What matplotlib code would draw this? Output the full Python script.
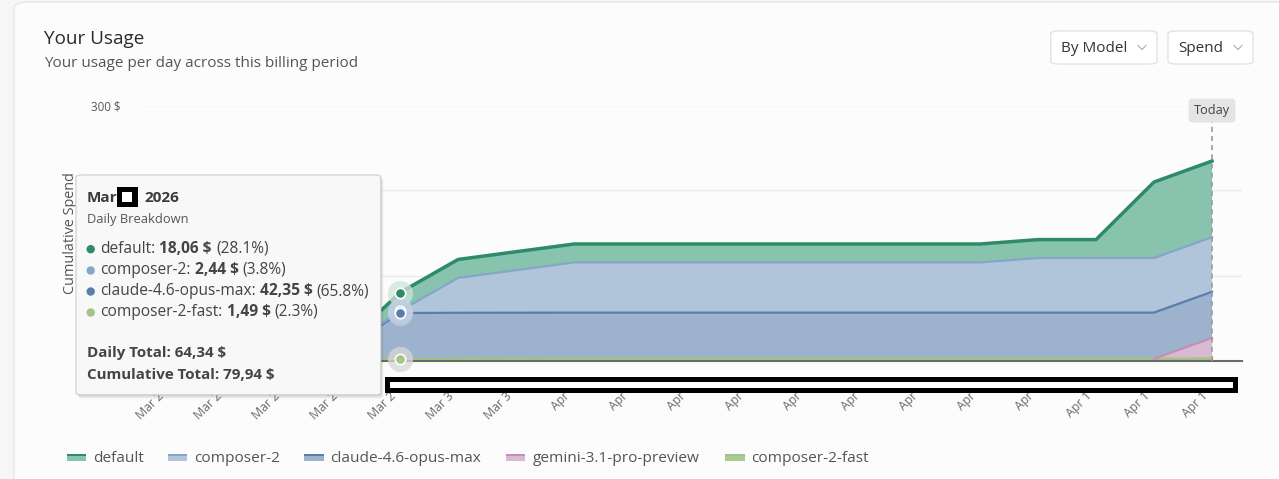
import numpy as np
import matplotlib
matplotlib.use("Agg")
import matplotlib.pyplot as plt
from matplotlib.patches import FancyBboxPatch, Rectangle, Ellipse
from matplotlib.lines import Line2D
from matplotlib.transforms import ScaledTranslation

plt.rcParams['font.family'] = ['Open Sans', 'DejaVu Sans']

W, H = 1279, 479

# cumulative spend per model, Mar 25 .. Apr 12 (stack order bottom -> top)
tick_labels = ["Mar 2", "Mar 2", "Mar 2", "Mar 2", "Mar 2", "Mar 3", "Mar 3",
               "Apr", "Apr", "Apr", "Apr", "Apr", "Apr", "Apr", "Apr", "Apr",
               "Apr 1", "Apr 1", "Apr 1"]
composer_2_fast = [0, 0, 0, 0, 1.49, 1.8, 1.9, 2.0, 2.0, 2.0, 2.0, 2.0, 2.0, 2.0, 2.0, 2.0, 2.0, 2.0, 2.2]
gemini = [0, 0, 0, 0, 0, 0, 0, 0, 0, 0, 0, 0, 0, 0, 0, 0, 0, 0, 24.3]
claude = [3.1, 6.4, 9.5, 12.0, 54.35, 54.35, 54.35, 54.35, 54.35, 54.35, 54.35, 54.35,
          54.35, 54.35, 54.35, 54.35, 54.35, 54.35, 54.35]
composer_2 = [0, 0, 0, 0, 2.44, 41.0, 50.0, 59.0, 59.0, 59.0, 59.0, 59.0, 59.0, 59.0, 59.0,
              64.2, 64.2, 64.2, 64.2]
default = [0.8, 1.9, 2.7, 3.55, 21.61, 21.7, 21.7, 21.7, 21.7, 21.7, 21.7, 21.7, 21.7,
           21.7, 21.7, 21.7, 21.7, 89.4, 89.6]

series_names = ["composer-2-fast", "gemini-3.1-pro-preview", "claude-4.6-opus-max",
                "composer-2", "default"]
fills = ["#a9c98f", "#d8bbd2", "#9cb2cd", "#b0c5da", "#88c3ad"]
lines = ["#a3c387", "#c48db5", "#5a7eac", "#86a6c9", "#2e8b6a"]
widths = [1.8, 1.5, 1.6, 1.6, 2.5]

tooltip_rows = [("default", "18,06 $", "(28.1%)", "#2e8b6a"),
                ("composer-2", "2,44 $", "(3.8%)", "#86a6c9"),
                ("claude-4.6-opus-max", "42,35 $", "(65.8%)", "#5a7eac"),
                ("composer-2-fast", "1,49 $", "(2.3%)", "#a3c387")]
hover_idx = 4
today_idx = 18


def fx(x):
    return x / W


def fy(y):
    return 1 - y / H


fig = plt.figure(figsize=(W / 100, H / 100), dpi=100)
fig.patch.set_facecolor("#f6f6f6")
card = FancyBboxPatch((fx(14), fy(560)), fx(1400), fy(2) - fy(560),
                      boxstyle="round,pad=0,rounding_size=0.012", transform=fig.transFigure,
                      facecolor="#fcfcfc", edgecolor="#e6e6e6", lw=1, zorder=-5)
fig.patches.append(card)

ax = fig.add_axes([fx(140), fy(360.5), fx(1242 - 140), fy(105.5) - fy(360.5)])
ax.set_facecolor("none")
x = np.arange(len(default))
data = np.array([composer_2_fast, gemini, claude, composer_2, default])
tops = np.cumsum(data, axis=0)

ax.stackplot(x, data, colors=fills, lw=0, zorder=2)
for i in range(len(series_names)):
    d = data[i]
    vis = (d > 0) | np.r_[d[1:] > 0, False] | np.r_[False, d[:-1] > 0]
    ax.plot(x, np.where(vis, tops[i], np.nan), color=lines[i], lw=widths[i],
            zorder=3 + i * 0.1, solid_joinstyle="miter")

ax.set_xlim(-0.483, 18.517)
ax.set_ylim(0, 300)
ax.set_yticks([0, 100, 200, 300])
ax.set_yticklabels(["", "", "", "300 $"])
ax.grid(axis="y", color="#ececec", lw=1, zorder=0)
ax.tick_params(axis="y", length=0, pad=14, labelsize=8.3, labelcolor="#555555")
ax.set_xticks(x)
ax.set_xticklabels(tick_labels, rotation=45, ha="right", rotation_mode="anchor")
ax.tick_params(axis="x", length=0, pad=21, labelsize=8.8, labelcolor="#6a6a6a")
shift = ScaledTranslation(-0.11, 0, fig.dpi_scale_trans)
for lab in ax.get_xticklabels():
    lab.set_transform(lab.get_transform() + shift)
for s in ["top", "right", "left"]:
    ax.spines[s].set_visible(False)
ax.spines["bottom"].set_color("#6a6a6a")
ax.spines["bottom"].set_linewidth(1.5)
ax.spines["bottom"].set_zorder(6)
ax.set_ylabel("Cumulative Spend", fontsize=10.4, color="#555555")
ax.yaxis.set_label_coords((78 - 140) / 1102, 0.5)

# today marker
ax.plot([today_idx, today_idx], [0, 283], ls=(0, (3, 2.5)), color="#9a9a9a", lw=1.2, zorder=7)
ax.text(today_idx, 294, "Today", ha="center", va="center", fontsize=9.2, color="#444444",
        zorder=8, clip_on=False,
        bbox=dict(boxstyle="round,pad=0.42,rounding_size=0.3", fc="#e4e4e4", ec="none"))

# hover points
for i, halo in [(4, "#cfe3da"), (3, "#c5d3e3"), (2, "#c0cde0"), (0, "#d6d8d4")]:
    ax.scatter(hover_idx, tops[i][hover_idx], s=330, color=halo, alpha=0.75, lw=0, zorder=8,
               clip_on=False)
for i in [4, 3, 2, 0]:
    ax.scatter(hover_idx, tops[i][hover_idx], s=55, color=lines[i], edgecolor="white", lw=1.2,
               zorder=9, clip_on=False)

# header
fig.text(fx(44), fy(39.5), "Your Usage", fontsize=13.6, color="#2b2b2b", va="center")
fig.text(fx(44), fy(63.5), "Your usage per day across this billing period", fontsize=11,
         color="#555555", va="center")

# dropdowns
for x0, x1, label in [(1050.7, 1157, "By Model"), (1168, 1253, "Spend")]:
    b = FancyBboxPatch((fx(x0), fy(64)), fx(x1 - x0), fy(31) - fy(64),
                       boxstyle="round,pad=0,rounding_size=0.006", transform=fig.transFigure,
                       facecolor="#ffffff", edgecolor="#e3e3e3", lw=1, zorder=2)
    fig.patches.append(b)
    fig.text(fx(x0 + 10), fy(49), label, fontsize=11, color="#333333", va="center", zorder=3)
    cx = x1 - 15
    fig.lines.append(Line2D([fx(cx - 4), fx(cx), fx(cx + 4)], [fy(45.5), fy(49.5), fy(45.5)],
                            transform=fig.transFigure, color="#b5b5b5", lw=0.9, zorder=3))

# legend
legend_x = [66.5, 167.5, 304, 506, 725]
legend_order = [4, 3, 2, 1, 0]
for lx, i in zip(legend_x, legend_order):
    fig.patches.append(Rectangle((fx(lx), fy(461)), fx(19.5), fy(454) - fy(461),
                                 transform=fig.transFigure, facecolor=fills[i], lw=0, zorder=2))
    fig.patches.append(Rectangle((fx(lx), fy(456)), fx(19.5), fy(454) - fy(456),
                                 transform=fig.transFigure, facecolor=lines[i], lw=0, zorder=2))
    fig.text(fx(lx + 26.5), fy(458.5), series_names[i], fontsize=11.1, color="#555555",
             va="center", zorder=3)

# tooltip
for k, a in enumerate([0.05, 0.05, 0.04, 0.03]):
    sh = FancyBboxPatch((fx(76 + 1 + k * 0.6), fy(395 + 1 + k)), fx(304.7), fy(175) - fy(394.7),
                        boxstyle="round,pad=0,rounding_size=0.004", transform=fig.transFigure,
                        facecolor="black", alpha=a, lw=0, zorder=20)
    fig.patches.append(sh)
tip = FancyBboxPatch((fx(76), fy(394.7)), fx(304.7), fy(175) - fy(394.7),
                     boxstyle="round,pad=0,rounding_size=0.004", transform=fig.transFigure,
                     facecolor="#f8f8f8", edgecolor="#d6d6d6", lw=1, zorder=21)
fig.patches.append(tip)

renderer = fig.canvas.get_renderer()


def run_text(x0, y0, parts, size, color, z=22):
    probe = fig.text(0, 0, "a a", fontsize=size)
    probe2 = fig.text(0, 0, "aa", fontsize=size)
    space = probe.get_window_extent(renderer).width - probe2.get_window_extent(renderer).width
    probe.remove()
    probe2.remove()
    xx = x0
    for s, w in parts:
        core = s.strip(" ")
        xx += space * (len(s) - len(s.lstrip(" ")))
        t = fig.text(fx(xx), fy(y0), core, fontsize=size, fontweight=w, color=color,
                     va="center", ha="left", zorder=z)
        xx += t.get_window_extent(renderer).width
        xx += space * (len(s) - len(s.rstrip(" ")))


fig.text(fx(86.7), fy(198), "Mar", fontsize=11, fontweight="bold", color="#3a3a3a",
         va="center", zorder=22)
fig.text(fx(144), fy(198), "2026", fontsize=11, fontweight="bold", color="#3a3a3a",
         va="center", zorder=22)
fig.text(fx(86.7), fy(219), "Daily Breakdown", fontsize=9.3, color="#555555",
         va="center", zorder=22)
row_y = [248.7, 270, 291, 312]
for (name, val, pct, c), yy in zip(tooltip_rows, row_y):
    fig.patches.append(Ellipse((fx(90.7), fy(yy + 0.5)), 7 / W, 7 / H, transform=fig.transFigure,
                               color=c, zorder=22))
    run_text(100.3, yy, [(name + ": ", "normal"), (val + " ", "bold"), (pct, "normal")],
             11.2, "#444444")
run_text(86.7, 353.3, [("Daily Total: 64,34 $", "bold")], 10.9, "#444444")
run_text(86.7, 375, [("Cumulative Total: 79,94 $", "bold")], 10.9, "#444444")

# redaction boxes
for (x0, y0, x1, y1, bw, bh) in [(116.7, 187, 137.7, 207, 5.5, 5),
                                 (384.5, 377, 1237.8, 393, 5, 5)]:
    fig.patches.append(Rectangle((fx(x0), fy(y1)), fx(x1 - x0), fy(y0) - fy(y1),
                                 transform=fig.transFigure, facecolor="black", lw=0, zorder=30))
    fig.patches.append(Rectangle((fx(x0 + bw), fy(y1 - bh)), fx(x1 - x0 - 2 * bw),
                                 fy(y0 + bh) - fy(y1 - bh), transform=fig.transFigure,
                                 facecolor="white", lw=0, zorder=31))

fig.savefig("out.png", dpi=100, facecolor=fig.get_facecolor())
